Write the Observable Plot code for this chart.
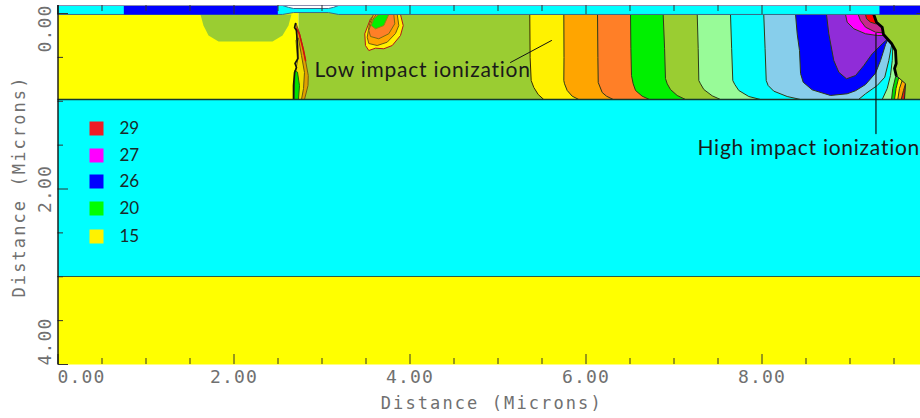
<!DOCTYPE html>
<html><head><meta charset="utf-8">
<script src="https://cdn.jsdelivr.net/npm/d3@7"></script>
<script src="https://cdn.jsdelivr.net/npm/@observablehq/plot@0.6"></script>
<style>
html,body{margin:0;padding:0;background:#fff}
svg{display:block}
</style></head><body><script>
// values in microns: [x, depth]
const xMajor=[0,2,4,6,8];
const xMinor=[0.5,1,1.5,2.5,3,3.5,4.5,5,5.5,6.5,7,7.5,8.5,9,9.5];
const yMajor=[0,2,4];
const yMinor=[0.5,1,1.5,2.5,3,3.5];
const legendValues=["29","27","26","20","15"];
const legendColors=["#ee1c25","#ff00ff","#0000ff","#00ff00","#fff200"];

const leftDrift=[[0,-0.011],[2.733,-0.011],[2.733,0.98],[0,0.98]];
const rightDrift=[[2.733,-0.011],[9.8,-0.011],[9.8,0.98],[2.733,0.98]];
const leftBlob=[[1.619,0.011],[1.653,0.137],[1.71,0.25],[1.824,0.319],[2.438,0.319],[2.551,0.25],[2.619,0.137],[2.653,0.011]];

const islandOuter=[[3.892,0.011],[3.923,0.137],[3.892,0.251],[3.798,0.365],[3.702,0.402],[3.608,0.395],[3.532,0.422],[3.494,0.365],[3.486,0.231],[3.551,0.06],[3.608,0.011]];
const islandOrange=[[3.855,0.011],[3.873,0.137],[3.835,0.228],[3.741,0.327],[3.627,0.365],[3.532,0.342],[3.514,0.27],[3.54,0.117],[3.585,0.011]];
const islandCoral=[[3.816,0.011],[3.827,0.117],[3.759,0.231],[3.645,0.288],[3.551,0.262],[3.532,0.194],[3.57,0.08],[3.616,0.011]];
const islandGreen=[[3.759,0.011],[3.702,0.137],[3.608,0.175],[3.559,0.137],[3.589,0.06],[3.645,0.011]];

const wedgeOuter=[[2.705,0.114],[2.739,0.205],[2.778,0.365],[2.813,0.536],[2.844,0.707],[2.841,0.821],[2.801,0.98],[2.756,0.98],[2.733,0.536],[2.71,0.251]];
const wedgeYellow=[[2.705,0.308],[2.722,0.536],[2.691,0.707],[2.682,0.98],[2.767,0.98],[2.79,0.855],[2.801,0.672],[2.767,0.479],[2.733,0.285]];
const wedgeGreen=[[2.693,0.65],[2.682,0.98],[2.733,0.98],[2.744,0.821],[2.722,0.672]];
const wedgeRed=[[2.71,0.171],[2.744,0.239],[2.79,0.422],[2.813,0.536]];
const wedgeBlack=[[2.699,0.114],[2.688,0.16],[2.71,0.194],[2.722,0.365],[2.727,0.513],[2.693,0.57],[2.71,0.615],[2.688,0.672],[2.676,0.821],[2.676,0.98]];

const c1=[[5.361,0.011],[5.365,0.5],[5.377,0.764],[5.407,0.843],[5.457,0.923],[5.52,0.98]];
const c2=[[5.748,0.011],[5.75,0.5],[5.748,0.764],[5.756,0.801],[5.786,0.877],[5.843,0.942],[5.918,0.98]];
const c3=[[6.131,0.011],[6.135,0.5],[6.139,0.786],[6.184,0.9],[6.233,0.942],[6.309,0.98]];
const c4=[[6.506,0.011],[6.51,0.4],[6.517,0.707],[6.536,0.801],[6.563,0.877],[6.638,0.942],[6.722,0.98]];
const c5=[[6.877,0.011],[6.893,0.4],[6.903,0.741],[6.923,0.801],[6.96,0.866],[7.036,0.934],[7.131,0.98]];
const c6=[[7.264,0.011],[7.275,0.4],[7.282,0.764],[7.301,0.801],[7.339,0.866],[7.434,0.938],[7.528,0.98]];
const c7=[[7.642,0.011],[7.655,0.4],[7.668,0.764],[7.691,0.809],[7.736,0.877],[7.85,0.946],[7.983,0.98]];
const c8=[[8.02,0.011],[8.035,0.4],[8.048,0.764],[8.07,0.821],[8.134,0.885],[8.286,0.946],[8.438,0.98]];
const bandContours=[c1,c2,c3,c4,c5,c6,c7,c8];
const bandColors=["#fff200","#ffa500","#ff7f27","#00f000","#9acd32","#98fb98","#00ffff","#87ceeb"];

const cyanWedge=[[9.472,0.365],[9.441,0.536],[9.395,0.726],[9.309,0.821],[9.176,0.915],[9.097,0.98],[9.8,0.98],[9.8,0.365]];
const paleWedge=[[9.486,0.384],[9.48,0.536],[9.46,0.707],[9.423,0.855],[9.366,0.98],[9.8,0.98],[9.8,0.384]];
const greenStrip=[[9.517,0.726],[9.486,0.855],[9.472,0.98],[9.8,0.98],[9.8,0.726]];
const yellowStrip=[[9.551,0.741],[9.523,0.855],[9.506,0.98],[9.8,0.98],[9.8,0.741]];
const orangeStrip=[[9.593,0.764],[9.562,0.855],[9.543,0.98],[9.8,0.98],[9.8,0.764]];
const redStrip=[[9.631,0.8],[9.608,0.877],[9.582,0.98],[9.8,0.98],[9.8,0.8]];

const blueCore=[[8.381,0.011],[8.4,0.232],[8.426,0.422],[8.438,0.684],[8.468,0.783],[8.57,0.87],[8.778,0.934],[8.968,0.915],[9.063,0.88],[9.176,0.81],[9.29,0.68],[9.347,0.536],[9.404,0.353],[9.43,0.3],[9.45,0.011]];
const purpleCore=[[8.733,0.011],[8.759,0.231],[8.816,0.536],[8.873,0.669],[8.96,0.744],[9.063,0.707],[9.157,0.593],[9.252,0.459],[9.366,0.345],[9.43,0.288],[9.5,0.2],[9.4,0.011]];
const magentaCore=[[8.949,0.011],[8.968,0.099],[9.043,0.174],[9.176,0.231],[9.309,0.251],[9.386,0.251],[9.42,0.1],[9.4,0.011]];
const pinkCore=[[9.093,0.011],[9.119,0.08],[9.176,0.156],[9.29,0.213],[9.366,0.22],[9.4,0.1],[9.4,0.011]];
const redCore=[[9.176,0.011],[9.188,0.06],[9.233,0.099],[9.29,0.117],[9.4,0.117],[9.4,0.011]];

const rightEdge=[[9.27,0.011],[9.301,0.099],[9.366,0.156],[9.381,0.239],[9.472,0.342],[9.517,0.422],[9.525,0.57],[9.506,0.627],[9.525,0.707],[9.631,0.801],[9.619,0.98]];
const rightEdgeThick=rightEdge.slice(0,9);
const rightEdgeThin=rightEdge.slice(8);

const oxideStrip=[[0,-0.0912],[2.551,-0.0912],[2.619,-0.07],[2.676,-0.057],[3.074,-0.057],[3.131,-0.07],[3.188,-0.0912],[9.8,-0.0912],[9.8,0.011],[3.188,0.011],[3.074,-0.011],[2.676,-0.011],[2.551,0.011],[0,0.011]];
const contactLeft=[[0.748,-0.0912],[2.498,-0.0912],[2.498,0.011],[0.748,0.011]];
const contactRight=[[9.335,-0.0912],[9.8,-0.0912],[9.8,0.011],[9.335,0.011]];
const buriedOxide=[[0,0.98],[9.8,0.98],[9.8,2.997],[0,2.997]];
const substrate=[[0,2.997],[9.8,2.997],[9.8,4],[0,4]];

const lowLeader=[[5.142,0.558],[5.608,0.308]];
const highLeader=[[9.295,0.228],[9.295,1.368]];
const notes=[{x:2.915,y:0.65,t:"Low impact ionization"},{x:7.267,y:1.538,t:"High impact ionization"}];

const X=d=>d[0],Y=d=>d[1];
const fmt=d3.format(".2f");
const LINE="#2c3a18";
const GREY="#707070";
const poly=(pts,fill,stroke="none",strokeWidth=1)=>Plot.line(pts,{x:X,y:Y,fill,stroke,strokeWidth,curve:"linear-closed"});
const path=(pts,stroke,strokeWidth=1)=>Plot.line(pts,{x:X,y:Y,stroke,strokeWidth});
const band=(c,color,i)=>poly([...c,[9.8,0.98],[9.8,0.011]],color,i==0?"#3a2a00":LINE,1);
const monoTick={text:fmt,fontFamily:"DejaVu Sans Mono",fontSize:18,fill:GREY,lineAnchor:"middle",textAnchor:"middle"};
const monoTitle={text:d=>d,fontFamily:"DejaVu Sans Mono",fontSize:17,fill:GREY,lineAnchor:"middle",textAnchor:"middle"};

const legendY=[128,155,181,208,236];
const legendMarks=legendValues.flatMap((v,i)=>[
  Plot.dot([v],{frameAnchor:"top-left",dx:38.5,dy:legendY[i]-5,symbol:"square",r:7.9,fill:legendColors[i],stroke:"none"}),
  Plot.text([v],{frameAnchor:"top-left",dx:61.5,dy:legendY[i]-5,text:d=>d,textAnchor:"start",lineAnchor:"middle",fontFamily:"Lato",fontSize:17,fill:"#1a2a2a"})
]);

const plot=Plot.plot({
  width:920,height:418,
  marginLeft:57.5,marginRight:0,marginTop:5,marginBottom:54,
  style:{background:"#fff",overflow:"visible"},
  x:{domain:[0,9.8011],axis:null},
  y:{domain:[4,-0.0912],axis:null},
  marks:[
    poly(leftDrift,"#ffff00"),
    poly(rightDrift,"#9acd32"),
    poly(leftBlob,"#9acd32"),
    poly(islandOuter,"#fff200","#b01818",1),
    poly(islandOrange,"#ffa500","#6a5a10",1),
    poly(islandCoral,"#ff7f27","#7a6a10",1),
    poly(islandGreen,"#00f000","#8a8a10",1),
    poly(wedgeOuter,"#e0a000","#7a5a10",1),
    poly(wedgeYellow,"#f0e000","#6a5a10",1),
    poly(wedgeGreen,"#00e000","#2a5a10",1),
    path(wedgeRed,"#d01010",1.6),
    path(wedgeBlack,"#111",1.6),
    ...bandContours.map((c,i)=>band(c,bandColors[i],i)),
    poly(cyanWedge,"#00ffff",LINE),
    poly(paleWedge,"#98fb98",LINE),
    poly(greenStrip,"#00e000",LINE),
    poly(yellowStrip,"#fff200",LINE),
    poly(orangeStrip,"#ffa500",LINE),
    poly(redStrip,"#e01818",LINE),
    poly(blueCore,"#0000ff",LINE),
    poly(purpleCore,"#902cd8",LINE),
    poly(magentaCore,"#ff00ff",LINE),
    poly(pinkCore,"#c8288c",LINE),
    poly(redCore,"#ff0000",LINE),
    poly([...rightEdge,[9.8,0.98],[9.8,0.011]],"#9acd32"),
    path(rightEdgeThick,"#000",2.8),
    path(rightEdgeThin,"#222",1),
    poly(oxideStrip,"#00ffff","#3a6a8a",1),
    poly(contactLeft,"#0000ff"),
    poly(contactRight,"#0000ff"),
    poly(buriedOxide,"#00ffff"),
    poly(substrate,"#ffff00"),
    Plot.ruleY([0.98],{stroke:"#123a30",strokeWidth:1.5}),
    Plot.ruleY([2.997],{stroke:"#335a40",strokeWidth:1}),
    Plot.ruleY([-0.0912],{stroke:"#8c8cb0",strokeWidth:1}),
    Plot.tickX(xMajor,{x:d=>d,insetTop:349,stroke:"#333"}),
    Plot.tickX(xMinor,{x:d=>d,insetTop:353,stroke:"#333"}),
    Plot.tickX(xMajor,{x:d=>d,insetBottom:350,stroke:"#333"}),
    Plot.tickX(xMinor,{x:d=>d,insetBottom:353,stroke:"#333"}),
    Plot.tickY(yMajor,{y:d=>d,insetRight:852,stroke:"#333"}),
    Plot.tickY(yMinor,{y:d=>d,insetRight:857,stroke:"#333"}),
    Plot.tickY([0],{y:d=>d,insetLeft:859,stroke:"#333"}),
    Plot.ruleX([0],{stroke:"#111",strokeWidth:1.4}),
    path(lowLeader,"#111",1),
    path(highLeader,"#111",1.2),
    Plot.text(notes,{x:"x",y:"y",text:"t",textAnchor:"start",fontFamily:"Lato",fontSize:21,fill:"#1a1a1a"}),
    ...legendMarks,
    Plot.text(xMajor.slice(1),{...monoTick,x:d=>d,frameAnchor:"bottom",dy:13}),
    Plot.text([0],{...monoTick,x:d=>d,frameAnchor:"bottom",dy:13,dx:23.5}),
    Plot.text([2],{...monoTick,y:d=>d,frameAnchor:"left",dx:-12.5,rotate:-90}),
    Plot.text([0],{...monoTick,y:d=>d,frameAnchor:"left",dx:-12.5,dy:15,rotate:-90}),
    Plot.text([4],{...monoTick,y:d=>d,frameAnchor:"left",dx:-12.5,dy:-23,rotate:-90}),
    Plot.text(["Distance (Microns)"],{...monoTitle,frameAnchor:"bottom",dx:2.5,dy:39}),
    Plot.text(["Distance (Microns)"],{...monoTitle,frameAnchor:"left",dx:-38.5,dy:1.5,rotate:-90})
  ]
});
d3.select(plot).selectAll("text").each(function(){
  const s=this.textContent;
  const ls=/^\d\.\d\d$/.test(s)?"1.2px":s.startsWith("Distance")?"2.1px":s.includes("impact")?"0.75px":null;
  if(ls) this.style.letterSpacing=ls;
});
document.body.appendChild(plot);
</script></body></html>
